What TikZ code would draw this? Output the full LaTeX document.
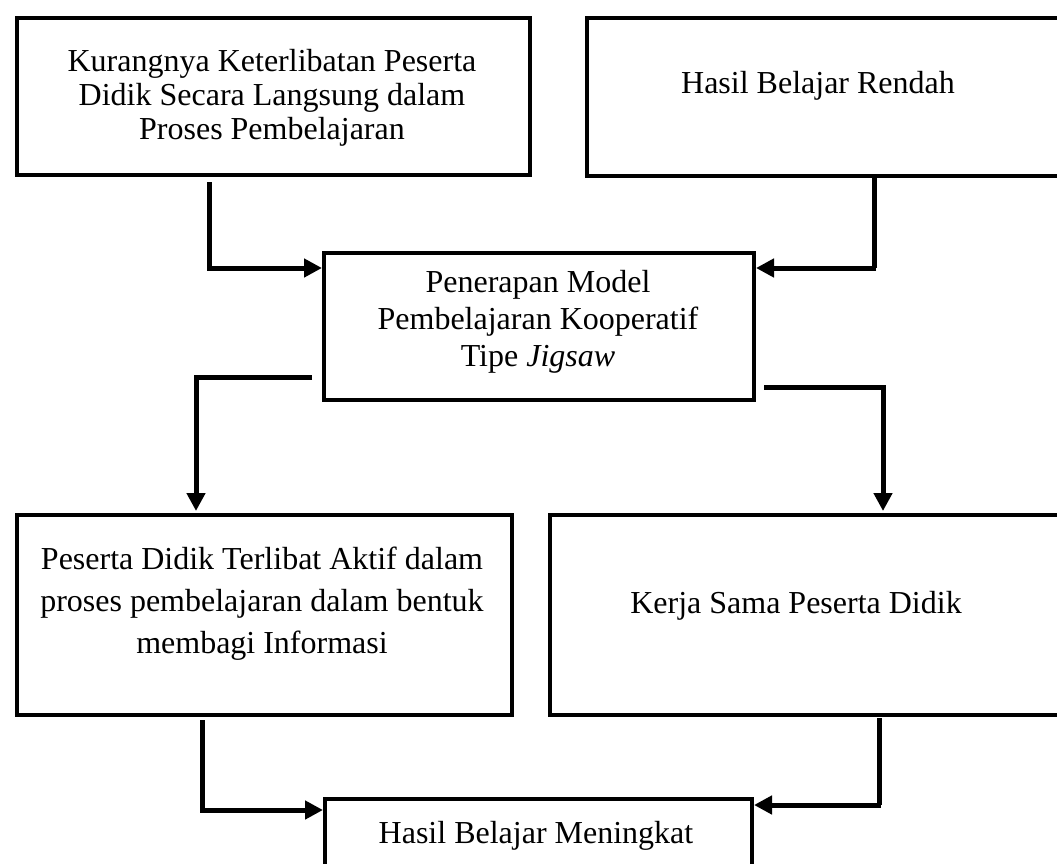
\documentclass[tikz,border=0pt]{standalone}
\usepackage{fontspec}
\setmainfont{Liberation Serif}
\usetikzlibrary{arrows.meta}
\tikzset{
  box/.style={draw, line width=4pt, inner sep=0pt, anchor=north west},
  txt/.style={align=center, font=\fontsize{32}{36}\selectfont, inner sep=0pt},
  conn/.style={line width=5pt},
  arr/.style={line width=5pt, -{Triangle[length=18pt,width=18pt]}}
}
\begin{document}
\begin{tikzpicture}[x=1pt,y=-1pt]
\useasboundingbox (0,0) rectangle (1057,864);
% boxes
\node[box, minimum width=513pt, minimum height=157pt] (b1) at (15,16) {};
\node[box, minimum width=480pt, minimum height=158pt] (b2) at (585,16) {};
\node[box, minimum width=430pt, minimum height=147pt] (b3) at (322,251) {};
\node[box, minimum width=495pt, minimum height=200pt] (b4) at (15,513) {};
\node[box, minimum width=517pt, minimum height=200pt] (b5) at (548,513) {};
\node[box, minimum width=427pt, minimum height=90pt] (b6) at (323,797) {};
% texts
\node[txt, font=\fontsize{32}{34}\selectfont] (t1) at (272,98) {Kurangnya Keterlibatan Peserta\\Didik Secara Langsung dalam\\Proses Pembelajaran};
\node[txt] (t2) at (818,86) {Hasil Belajar Rendah};
\node[txt, font=\fontsize{32}{37}\selectfont] (t3) at (538,322) {Penerapan Model\\Pembelajaran Kooperatif\\Tipe \textit{Jigsaw}};
\node[txt, font=\fontsize{32}{42}\selectfont] (t4) at (262,604) {Peserta Didik Terlibat Aktif dalam\\proses pembelajaran dalam bentuk\\membagi Informasi};
\node[txt] (t5) at (796,606) {Kerja Sama Peserta Didik};
\node[txt] (t6) at (536,836) {Hasil Belajar Meningkat};
% connector points
\coordinate (a1) at (209,182);
\coordinate (a2) at (874,178);
\coordinate (a3) at (312,377);
\coordinate (a4) at (764,387);
\coordinate (a5) at (202,720);
\coordinate (a6) at (879,718);
% connectors
\draw[conn] (a1) -- (209,268);
\draw[arr] (207,268) -- (b3.west |- 0,268);
\draw[conn] (a2) -- (874,268);
\draw[arr] (876,268) -- (b3.east |- 0,268);
\draw[conn] (a3) -- (194,377);
\draw[arr] (196,375) -- (196,511);
\draw[conn] (a4) -- (885,387);
\draw[arr] (883,385) -- (883,511);
\draw[conn] (a5) -- (202,810);
\draw[arr] (200,810) -- (b6.west |- 0,810);
\draw[conn] (a6) -- (879,805);
\draw[arr] (881,805) -- (b6.east |- 0,805);
\end{tikzpicture}
\end{document}
